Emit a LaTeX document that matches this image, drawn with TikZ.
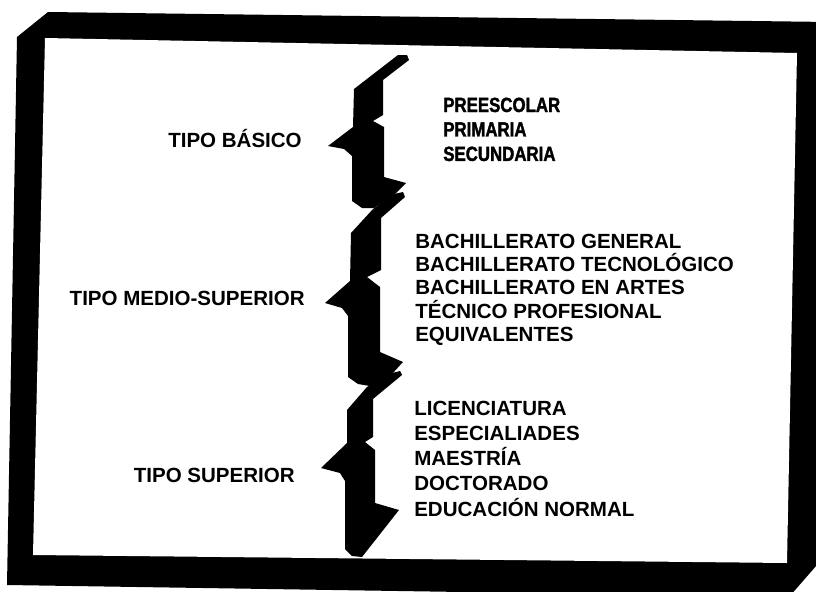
\documentclass[tikz,border=0pt]{standalone}
\usepackage{fontspec}
\setmainfont{Liberation Sans}
\newfontfamily\angosta{Liberation Sans Bold}[FakeStretch=0.82,FakeBold=1.6]
\usetikzlibrary{positioning}

\begin{document}
\begin{tikzpicture}[x=0.025cm,y=-0.025cm,inner sep=0pt,
	tipo/.style={anchor=base east,font=\bfseries\fontsize{14.6}{17}\selectfont},
	nivel/.style={anchor=base west,font=\bfseries\fontsize{14.6}{17}\selectfont},
	basica/.style={nivel,font=\angosta\fontsize{14.6}{17}\selectfont}]
	\useasboundingbox (0,0) rectangle (816,592);
	\clip (0,0) rectangle (816,592);

	% marco
	\fill[black] (48,12) -- (830,22) -- (830,550) -- (789,597) -- (7,585) -- (17,37) -- cycle;
	\fill[white] (45,38) -- (797,53) -- (787,563) -- (33,555) -- cycle;

	% llaves
	\fill[black] (407,55) -- (409,60) -- (383,80) -- (383,115) -- (373,121) -- (384,127) -- (384,177)
		-- (406,183) -- (393,196) -- (374,208) -- (362,208) -- (352,201) -- (352,156) -- (344,149)
		-- (328,146) -- (353,127) -- (354,89) -- (398,55) -- cycle;
	\fill[black] (403,192) -- (405,197) -- (381,218) -- (381,270) -- (367,277) -- (380,287) -- (380,352)
		-- (403,362) -- (392,374) -- (370,386) -- (358,384) -- (348,377) -- (348,316) -- (342,308)
		-- (325,303) -- (350,281) -- (351,233) -- (373,209) -- (394,194) -- cycle;
	\fill[black] (400,371) -- (402,375) -- (373,399) -- (373,437) -- (365,442) -- (375,450) -- (375,503)
		-- (399,510) -- (362,557) -- (352,556) -- (345,549) -- (345,481) -- (340,473)
		-- (321,468) -- (347,443) -- (347,410) -- (367,387) -- (392,373) -- cycle;

	% tipos
	\node[tipo]		(basico)	at (302,147)	{TIPO BÁSICO};
	\node[tipo]		(medio)		at (305,305)	{TIPO MEDIO-SUPERIOR};
	\node[tipo]		(superior)	at (295,482)	{TIPO SUPERIOR};

	% niveles
	\node[basica]	(pre)		at (443,112)	{PREESCOLAR};
	\node[basica]	(pri)		[below=17.4pt of pre.base west,anchor=base west]	{PRIMARIA};
	\node[basica]	(sec)		[below=17.4pt of pri.base west,anchor=base west]	{SECUNDARIA};

	\node[nivel]	(bgen)		at (415,248)	{BACHILLERATO GENERAL};
	\node[nivel]	(btec)		[below=16.7pt of bgen.base west,anchor=base west]	{BACHILLERATO TECNOLÓGICO};
	\node[nivel]	(bart)		[below=16.7pt of btec.base west,anchor=base west]	{BACHILLERATO EN ARTES};
	\node[nivel]	(tec)		[below=16.7pt of bart.base west,anchor=base west]	{TÉCNICO PROFESIONAL};
	\node[nivel]	(equ)		[below=16.7pt of tec.base west,anchor=base west]	{EQUIVALENTES};

	\node[nivel]	(lic)		at (414,415)	{LICENCIATURA};
	\node[nivel]	(esp)		[below=18pt of lic.base west,anchor=base west]	{ESPECIALIADES};
	\node[nivel]	(mae)		[below=18pt of esp.base west,anchor=base west]	{MAESTRÍA};
	\node[nivel]	(doc)		[below=18pt of mae.base west,anchor=base west]	{DOCTORADO};
	\node[nivel]	(edu)		[below=18pt of doc.base west,anchor=base west]	{EDUCACIÓN NORMAL};
\end{tikzpicture}
\end{document}
